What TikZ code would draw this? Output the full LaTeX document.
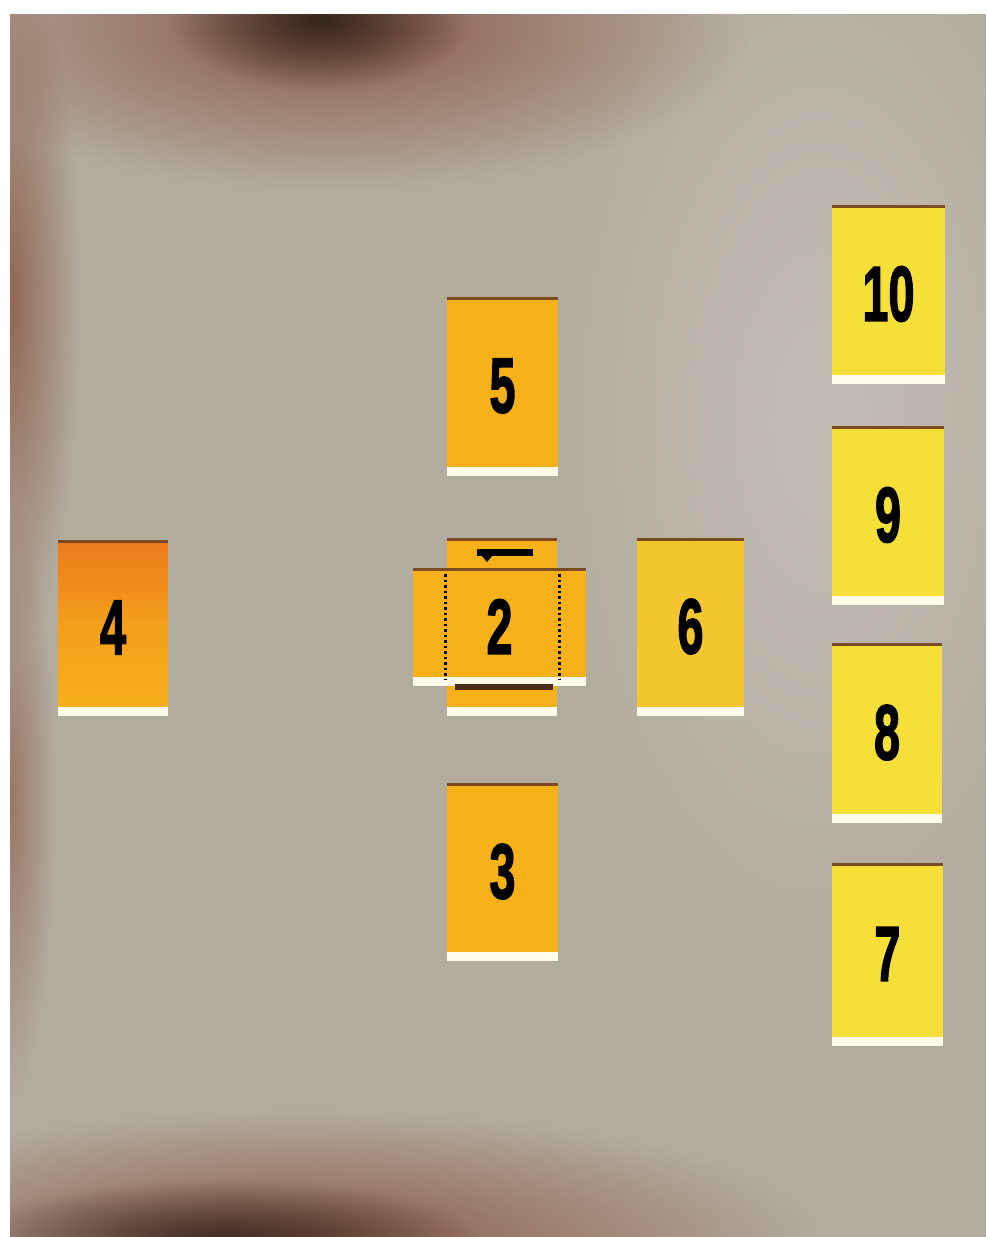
\documentclass[tikz,border=0pt]{standalone}
\usepackage{fontspec}
\usepackage{graphicx}
\usetikzlibrary{fadings}
\setmainfont{Liberation Sans}
\newfontfamily\numfont{Liberation Sans}[BoldFeatures={FakeBold=2.2}]
\definecolor{cloth}{HTML}{B2AC9F}
\definecolor{clothlight}{HTML}{C3BEB5}
\definecolor{rust}{HTML}{8A5442}
\definecolor{darkrust}{HTML}{35261F}
\definecolor{ochre}{HTML}{F6B01A}
\definecolor{gold}{HTML}{F3C52E}
\definecolor{lemon}{HTML}{F7DF3A}
\definecolor{orangered}{HTML}{EC7A1C}
\definecolor{edge}{HTML}{7A4A20}
\definecolor{cream}{HTML}{FFFBEA}
\tikzfading[name=softblob, inner color=transparent!0, outer color=transparent!100]
\tikzset{
  blob/.style={path fading=softblob},
  card/.style={inner sep=0pt, font=\numfont\bfseries\fontsize{78}{78}\selectfont,
    path picture={
      \fill[cream] ([yshift=-1pt]path picture bounding box.south west) rectangle ([yshift=8pt]path picture bounding box.south east);
      \fill[edge] ([yshift=1pt]path picture bounding box.north west) rectangle ([yshift=-2.5pt]path picture bounding box.north east);
    }},
  hidden/.style={black, line width=3pt, dash pattern=on 2.5pt off 3pt},
}
\newcommand{\cnum}[1]{\scalebox{0.6}[1]{#1}}
\begin{document}
\begin{tikzpicture}[x=1pt,y=-1pt]
\useasboundingbox (0,0) rectangle (986,1237);
\fill[white] (0,0) rectangle (986,1237);
\begin{scope}
\clip (10,14) rectangle (986,1237);
\fill[cloth] (10,14) rectangle (986,1237);
\fill[clothlight, blob] (820,420) ellipse (280 and 560);
\fill[rust, blob, opacity=0.95] (330,30) ellipse (420 and 160);
\fill[rust, blob, opacity=0.8] (10,300) ellipse (70 and 360);
\fill[darkrust, blob] (320,20) ellipse (150 and 70);
\fill[rust, blob, opacity=0.6] (10,800) ellipse (45 and 300);
\fill[rust, blob, opacity=0.95] (300,1240) ellipse (520 and 130);
\fill[darkrust, blob, opacity=0.9] (220,1240) ellipse (260 and 60);
\end{scope}
% cards
\node[card, fill=lemon, minimum width=113pt, minimum height=178pt] (c10) at (888.5,294) {\cnum{10}};
\node[card, fill=lemon, minimum width=112pt, minimum height=178pt] (c9) at (888,515) {\cnum{9}};
\node[card, fill=lemon, minimum width=110pt, minimum height=179pt] (c8) at (887,732.5) {\cnum{8}};
\node[card, fill=lemon, minimum width=111pt, minimum height=182pt] (c7) at (887.5,954) {\cnum{7}};
\node[card, fill=ochre, minimum width=111pt, minimum height=178pt] (c5) at (502.5,386) {\cnum{5}};
\node[card, fill=ochre, minimum width=111pt, minimum height=177pt] (c3) at (502.5,871.5) {\cnum{3}};
\node[card, fill=gold, minimum width=107pt, minimum height=177pt] (c6) at (690.5,626.5) {\cnum{6}};
\node[card, top color=orangered, bottom color=ochre, middle color=ochre!70!orangered, minimum width=110pt, minimum height=175pt] (c4) at (113,627.5) {\cnum{4}};
% crossing cards
\node[card, fill=ochre, minimum width=110pt, minimum height=177pt] (c1) at (502,626.5) {};
\node[card, fill=ochre, minimum width=173pt, minimum height=117pt] (c2) at (499.5,626.5) {\cnum{2}};
\draw[hidden] (445,574) -- (445,680);
\draw[hidden] (559,574) -- (559,680);
\fill[edge!60!black] (455,684) rectangle (553,690);
\fill[black] (477,549) rectangle (533,556);
\fill[black] (481,555) -- (493,555) -- (487,562) -- cycle;
\end{tikzpicture}
\end{document}
